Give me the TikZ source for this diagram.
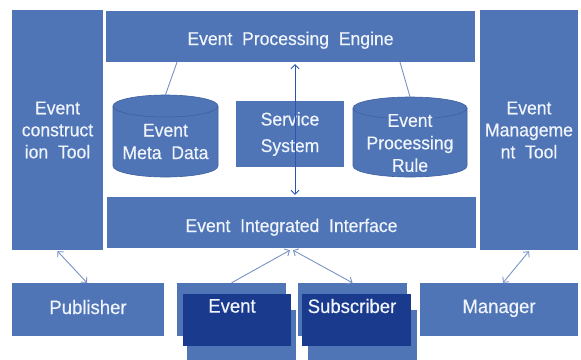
\documentclass[tikz,border=0pt]{standalone}
\usepackage{fontspec}
\setmainfont{Liberation Sans}[FakeStretch=0.95,WordSpace=2,FakeBold=0.4]
\usetikzlibrary{arrows.meta}
\definecolor{boxblue}{RGB}{79,117,182}
\definecolor{cylline}{RGB}{62,96,160}
\definecolor{darkblue}{RGB}{26,58,142}
\definecolor{linecol}{RGB}{120,148,196}
\definecolor{arrowcol}{RGB}{45,85,175}
\definecolor{txt}{RGB}{240,244,252}
\tikzset{
  box/.style={fill=boxblue, draw=none, inner sep=0pt, text=txt, align=center,
    font=\fontsize{18.5}{22}\selectfont},
  darkbox/.style={fill=darkblue, draw=none, inner sep=0pt},
  lbl/.style={text=txt, align=center, inner sep=0pt, font=\fontsize{18.5}{22.5}\selectfont},
  botfont/.style={font=\fontsize{19.5}{22}\selectfont},
  cylarea/.style={inner sep=0pt, draw=none},
  conn/.style={draw=linecol, line width=0.9pt},
  biarrow/.style={conn, {Straight Barb[length=4pt,width=8pt]}-{Straight Barb[length=4pt,width=8pt]}},
  onearrow/.style={conn, -{Straight Barb[length=4pt,width=8pt]}},
}
\begin{document}
\begin{tikzpicture}[x=1pt,y=-1pt]
\useasboundingbox (0,0) rectangle (581,359);
\fill[white] (0,0) rectangle (581,359);

% main boxes
\node[box, minimum width=91pt, minimum height=240pt] (ect) at (57.5,130) {Event\\construct\\ion Tool};
\node[box, minimum width=98pt, minimum height=240pt] (emt) at (529,130) {Event\\Manageme\\nt Tool};
\node[box, minimum width=369pt, minimum height=51pt, text height=17pt, text depth=0pt] (engine) at (290.5,36.5) {Event Processing Engine};
\node[box, minimum width=369pt, minimum height=51pt, text height=19pt, text depth=0pt] (iface) at (291.5,222.5) {Event Integrated Interface};
\node[box, minimum width=108pt, minimum height=66pt, font=\fontsize{18.5}{26.5}\selectfont] (service) at (290,134) {Service\\System};

% cylinders
\fill[boxblue, draw=cylline, line width=0.6pt] (113,106) -- (113,166) arc[start angle=180,end angle=360,x radius=52.5pt,y radius=11pt] -- (218,106) arc[start angle=0,end angle=180,x radius=52.5pt,y radius=11pt] -- cycle;
\draw[cylline, line width=0.6pt] (113,106) arc[start angle=180,end angle=360,x radius=52.5pt,y radius=11pt];
\node[cylarea, minimum width=105pt, minimum height=82pt] (meta) at (165.5,136) {};
\node[lbl] (metatext) at (165.5,141.5) {Event\\Meta Data};

\fill[boxblue, draw=cylline, line width=0.6pt] (353,108) -- (353,166) arc[start angle=180,end angle=360,x radius=57pt,y radius=11pt] -- (467,108) arc[start angle=0,end angle=180,x radius=57pt,y radius=11pt] -- cycle;
\draw[cylline, line width=0.6pt] (353,108) arc[start angle=180,end angle=360,x radius=57pt,y radius=11pt];
\node[cylarea, minimum width=114pt, minimum height=80pt] (rule) at (410,137) {};
\node[lbl] (ruletext) at (410,143) {Event\\Processing\\Rule};

% connectors inside
\draw[conn] ([xshift=-113.5pt]engine.south) -- (meta.north);
\draw[conn] ([xshift=109.5pt]engine.south) -- (rule.north);
\draw[draw=arrowcol, line width=0.8pt, {Straight Barb[length=4pt,width=8pt]}-{Straight Barb[length=4pt,width=8pt]}]
  ([xshift=4.5pt,yshift=-2pt]engine.south) -- ([xshift=3.5pt,yshift=2pt]iface.north);

% bottom row
\node[box, botfont, minimum width=152pt, minimum height=53pt, text height=9pt, text depth=0pt] (pub) at (88,309.5) {Publisher};
\node[box, botfont, minimum width=158pt, minimum height=53pt, text height=7pt, text depth=0pt] (mgr) at (499,309.5) {Manager};

\node[box, minimum width=109pt, minimum height=53pt] (evA) at (231.5,309.5) {};
\node[box, minimum width=109pt, minimum height=52pt] (evC) at (241.5,336) {};
\node[darkbox, minimum width=108pt, minimum height=52pt] (evB) at (237,320) {};
\node[lbl, botfont] (evtext) at (232,306) {Event};

\node[box, minimum width=109pt, minimum height=53pt] (subA) at (352.5,309.5) {};
\node[box, minimum width=109pt, minimum height=52pt] (subC) at (362.5,336) {};
\node[darkbox, minimum width=109pt, minimum height=52pt] (subB) at (356.5,320) {};
\node[lbl, botfont] (subtext) at (352,306) {Subscriber};

% bottom connectors
\draw[biarrow] ([yshift=-1pt]ect.south) -- ([xshift=-1pt]pub.north);
\draw[onearrow] (evA.north) -- ([xshift=-1.5pt,yshift=-2pt]iface.south);
\draw[biarrow] ([xshift=1.5pt,yshift=-2pt]iface.south) -- (subA.north);
\draw[biarrow] ([xshift=4pt]mgr.north) -- ([yshift=-1pt]emt.south);
\end{tikzpicture}
\end{document}
